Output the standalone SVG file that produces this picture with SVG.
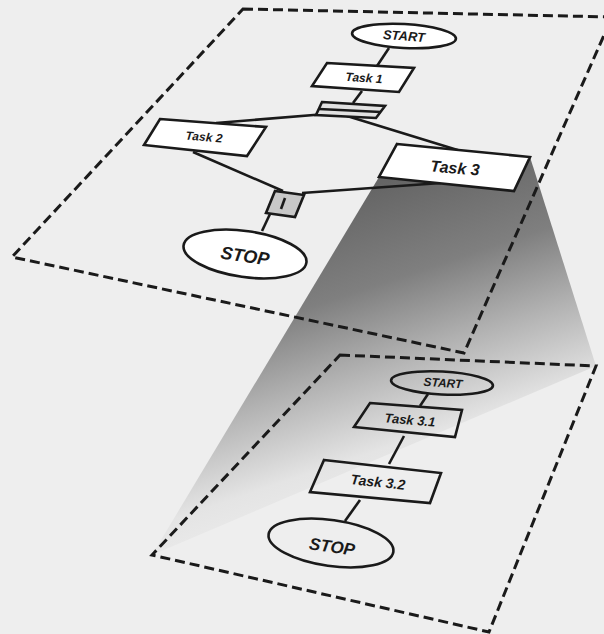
<svg xmlns="http://www.w3.org/2000/svg" width="604" height="634" viewBox="0 0 604 634">
<defs>
<linearGradient id="beam" gradientUnits="userSpaceOnUse" x1="420" y1="170" x2="520" y2="470">
<stop offset="0" stop-color="#656565"/>
<stop offset="0.3" stop-color="#7f7f7f"/>
<stop offset="0.55" stop-color="#b3b3b3"/>
<stop offset="0.8" stop-color="#e4e4e4"/>
<stop offset="1" stop-color="#eeeeee"/>
</linearGradient>
<style>
.plane{fill:none;stroke:#1a1a1a;stroke-width:3;stroke-dasharray:10 5}
.box{fill:#ffffff;stroke:#1a1a1a;stroke-width:2.6;stroke-linejoin:miter}
.hol{fill:none;stroke:#1a1a1a;stroke-width:2.6}
.ln{fill:none;stroke:#1a1a1a;stroke-width:2.6}
.t{font-family:"Liberation Sans",Arial,Helvetica,sans-serif;font-weight:bold;font-style:italic;fill:#1a1a1a;text-anchor:middle;dominant-baseline:central}
</style>
</defs>
<rect width="604" height="634" fill="#eeeeee"/>
<polygon points="379,177 530,157 596,366 152,555" fill="url(#beam)"/>
<path class="plane" d="M243,9 L612,17 L464,353 L12,257 Z"/>
<path class="plane" d="M340,355 L596,366 L489,632 L152,555 Z"/>
<g id="connectors">
<line class="ln" x1="389" y1="48" x2="377" y2="66"/>
<line class="ln" x1="362" y1="91" x2="353" y2="103"/>
<line class="ln" x1="326" y1="114" x2="216" y2="123"/>
<line class="ln" x1="347" y1="116" x2="464" y2="152"/>
<line class="ln" x1="193" y1="152" x2="283" y2="191"/>
<line class="ln" x1="441" y1="183" x2="302" y2="193"/>
<line class="ln" x1="270" y1="214" x2="262" y2="231"/>
<line class="ln" x1="428" y1="394" x2="420" y2="406"/>
<line class="ln" x1="404" y1="436" x2="389" y2="464"/>
<line class="ln" x1="360" y1="500" x2="345" y2="521"/>
</g>
<g id="start1">
<ellipse class="box" cx="404" cy="36" rx="52" ry="12" transform="rotate(3 404 36)"/>
<text class="t" x="404" y="36" font-size="13" transform="rotate(4 404 36)">START</text>
</g>
<g id="task1">
<polygon class="box" points="327,63 414,68 399,92 312,86"/>
<text class="t" x="364" y="78" font-size="12" transform="rotate(4 364 78)">Task 1</text>
</g>
<g id="split">
<polygon class="box" points="322,102 385,106 376,118 316,115" style="fill:#e2e2e2"/>
<line class="ln" x1="319" y1="109" x2="381" y2="112" stroke-width="2"/>
</g>
<g id="task2">
<polygon class="box" points="160,119 266,127 247,156 144,145"/>
<text class="t" x="204" y="137" font-size="12" transform="rotate(5 204 137)">Task 2</text>
</g>
<g id="task3">
<polygon class="box" points="397,144 530,157 514,191 379,177"/>
<text class="t" x="455" y="168" font-size="16" transform="rotate(5 455 168)">Task 3</text>
</g>
<g id="merge">
<polygon class="box" points="275,191 304,195 295,217 266,213" style="fill:#c8c8c8"/>
<line class="ln" x1="285" y1="198" x2="281" y2="209" stroke-width="2"/>
</g>
<g id="stop1">
<ellipse class="box" cx="245" cy="254" rx="62" ry="23" transform="rotate(8 245 254)"/>
<text class="t" x="245" y="256" font-size="18" transform="rotate(8 245 256)">STOP</text>
</g>
<g id="start2">
<ellipse class="hol" cx="442" cy="383" rx="51" ry="11.5" transform="rotate(3 442 383)"/>
<text class="t" x="443" y="383" font-size="12" transform="rotate(4 443 383)">START</text>
</g>
<g id="task31">
<polygon class="hol" points="370,403 462,410 455,437 354,427"/>
<text class="t" x="410" y="420" font-size="13" transform="rotate(5 410 420)">Task 3.1</text>
</g>
<g id="task32">
<polygon class="hol" points="324,460 441,473 430,503 310,492"/>
<text class="t" x="378" y="482" font-size="14" transform="rotate(6 378 482)">Task 3.2</text>
</g>
<g id="stop2">
<ellipse class="hol" cx="331" cy="543" rx="63" ry="23" transform="rotate(8 331 543)"/>
<text class="t" x="332" y="547" font-size="17" transform="rotate(8 332 547)">STOP</text>
</g>
</svg>
